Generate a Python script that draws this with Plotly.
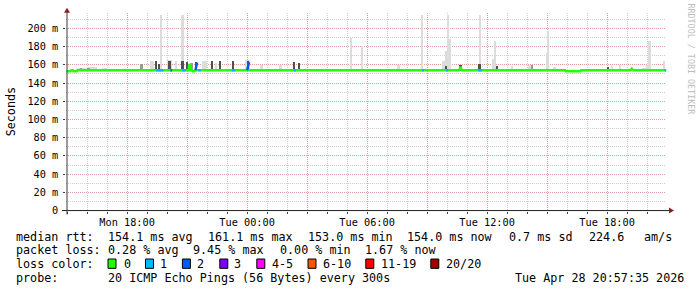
import plotly.graph_objects as go
import pandas as pd

# ---------------- data ----------------
t_start = "2026-04-27 14:57:35"
t_end = "2026-04-28 20:57:35"

x_tickvals = ["2026-04-27 15:00", "2026-04-27 18:00", "2026-04-27 21:00",
              "2026-04-28 00:00", "2026-04-28 03:00", "2026-04-28 06:00",
              "2026-04-28 09:00", "2026-04-28 12:00", "2026-04-28 15:00",
              "2026-04-28 18:00"]
x_ticktext = ["", "Mon 18:00", "", "Tue 00:00", "", "Tue 06:00", "",
              "Tue 12:00", "", "Tue 18:00"]

y_tickvals = [0, 20, 40, 60, 80, 100, 120, 140, 160, 180, 200]
y_ticktext = ["0", "20 m", "40 m", "60 m", "80 m", "100 m", "120 m",
              "140 m", "160 m", "180 m", "200 m"]

# smoke (ping spread), ms
smoke_floor = 153.5
smoke_time = [
    "2026-04-27 15:45", "2026-04-27 16:15", "2026-04-27 16:52",
    "2026-04-27 19:16", "2026-04-27 19:44", "2026-04-27 20:09",
    "2026-04-27 20:27", "2026-04-27 20:48", "2026-04-27 21:52",
    "2026-04-27 22:27",
    "2026-04-28 00:03", "2026-04-28 00:45", "2026-04-28 01:42",
    "2026-04-28 05:12", "2026-04-28 05:45", "2026-04-28 07:36",
    "2026-04-28 08:46", "2026-04-28 09:51", "2026-04-28 09:58",
    "2026-04-28 10:05", "2026-04-28 10:11", "2026-04-28 11:40",
    "2026-04-28 12:18", "2026-04-28 12:25", "2026-04-28 13:15",
    "2026-04-28 14:09", "2026-04-28 15:01", "2026-04-28 15:04",
    "2026-04-28 15:24", "2026-04-28 18:15", "2026-04-28 18:39",
    "2026-04-28 19:51", "2026-04-28 20:01", "2026-04-28 20:09",
    "2026-04-28 20:53",
    # mid grey
    "2026-04-27 15:42", "2026-04-27 16:06", "2026-04-27 18:45",
    "2026-04-27 21:13", "2026-04-28 14:15",
    # dark grey
    "2026-04-27 19:27", "2026-04-27 19:37", "2026-04-27 20:09",
    "2026-04-27 20:48", "2026-04-27 21:00", "2026-04-27 21:27",
    "2026-04-27 22:16", "2026-04-27 22:39", "2026-04-27 23:18",
    "2026-04-28 00:03", "2026-04-28 02:21", "2026-04-28 02:38",
    "2026-04-28 09:57", "2026-04-28 10:42", "2026-04-28 11:39",
    "2026-04-28 12:30", "2026-04-28 18:03", "2026-04-28 20:00",
]
smoke_minutes = [
    30, 30, 15, 10, 3, 14, 6, 5, 15, 6,
    15, 5, 5, 4, 4, 8, 5, 8, 7, 6, 4, 4, 6, 8, 6, 12, 4, 5, 5, 6, 4,
    12, 9, 5, 5,
    6, 9, 5, 9, 4,
    4, 6, 10, 10, 6, 6, 4, 6, 6, 6, 6, 5, 4, 5, 10, 4, 6, 4,
]
smoke_top = [
    157.0, 158.0, 157.0, 164.0, 215.0, 166.0, 165.0, 215.0, 165.0, 162.0,
    166.0, 160.0, 160.0, 190.0, 181.0, 160.0, 215.0, 164.0, 175.0, 215.0,
    189.0, 215.0, 167.0, 186.0, 159.0, 160.0, 173.0, 197.0, 158.0, 159.0,
    160.0, 157.0, 160.0, 186.0, 164.0,
    156.5, 157.0, 161.0, 162.0, 160.0,
    165.0, 161.0, 164.0, 164.0, 163.0, 163.0, 164.0, 164.0, 165.0, 164.0,
    163.0, 162.0, 159.0, 160.0, 161.0, 158.6, 157.5, 156.0,
]
smoke_shade = (["light"] * 35) + (["mid"] * 5) + (["dark"] * 18)

# median rtt, ms
med_time = [
    "2026-04-27 14:57:35", "2026-04-27 15:10", "2026-04-27 15:13",
    "2026-04-27 15:17", "2026-04-27 15:19", "2026-04-27 15:29",
    "2026-04-27 15:31", "2026-04-27 21:04", "2026-04-27 21:07",
    "2026-04-27 21:10", "2026-04-27 21:14", "2026-04-27 21:16",
    "2026-04-27 21:22", "2026-04-27 21:24",
    "2026-04-28 10:36", "2026-04-28 10:40", "2026-04-28 10:44",
    "2026-04-28 15:54", "2026-04-28 15:56", "2026-04-28 16:40",
    "2026-04-28 16:42", "2026-04-28 19:10", "2026-04-28 19:14",
    "2026-04-28 19:18", "2026-04-28 20:57:35",
]
med_ms = [
    153.0, 153.0, 154.1, 154.1, 153.0, 153.0, 154.1, 154.1, 161.0,
    154.1, 154.1, 153.0, 153.0, 154.1,
    154.1, 158.0, 154.1, 154.1, 153.0, 153.0, 154.1, 154.1, 155.8,
    154.1, 154.1,
]

# median segments with packet loss (number of lost pings out of 20)
loss_t0 = ["2026-04-27 19:27", "2026-04-27 20:10", "2026-04-27 20:44",
           "2026-04-27 21:25", "2026-04-27 21:33", "2026-04-27 23:14",
           "2026-04-28 00:00", "2026-04-28 02:20", "2026-04-28 08:45",
           "2026-04-28 09:57", "2026-04-28 11:33", "2026-04-28 20:52"]
loss_t1 = ["2026-04-27 19:49", "2026-04-27 20:15", "2026-04-27 20:57",
           "2026-04-27 21:30", "2026-04-27 21:41", "2026-04-27 23:24",
           "2026-04-28 00:06", "2026-04-28 02:27", "2026-04-28 08:51",
           "2026-04-28 10:03", "2026-04-28 11:45", "2026-04-28 20:57:35"]
loss_ms0 = [154.1, 154.1, 154.1, 154.1, 154.1, 154.1, 154.1, 154.1,
            154.1, 154.1, 154.1, 154.1]
loss_ms1 = [154.1, 154.1, 154.1, 162.5, 154.1, 154.1, 163.0, 154.1,
            154.1, 154.1, 154.1, 154.1]
loss_n = [1, 2, 1, 2, 1, 1, 2, 1, 1, 1, 1, 1]

loss_labels = ["0", "1", "2", "3", "4-5", "6-10", "11-19", "20/20"]
loss_colors = ["#26ff00", "#00b8ff", "#0059ff", "#7e00ff", "#ff00ff",
               "#ff5500", "#ff0000", "#a10000"]

legend_rows = [
    ["median rtt:", "154.1 ms avg", "161.1 ms max", "153.0 ms min",
     "154.0 ms now", "0.7 ms sd", "224.6", "am/s"],
    ["packet loss:", "0.28 % avg", "9.45 % max", "0.00 % min", "1.67 % now"],
    ["probe:", "20 ICMP Echo Pings (56 Bytes) every 300s",
     "Tue Apr 28 20:57:35 2026"],
]
loss_row_title = "loss color:"

# ---------------- layout helpers ----------------
# the page adds a few pixels below the figure, so the figure itself is
# drawn at 290 px and the page comes out at the 697x297 window size
W, H = 697, 290
def px(x):
    return x / W
def py(y):
    return 1 - y / H

def to_dt(vals):
    return pd.to_datetime(vals, format="mixed")

MONO = "DejaVu Sans Mono"
LEG = 11.73
AX = 10.26

def loss_index(n):
    if n <= 3:
        return n
    if n <= 5:
        return 4
    if n <= 10:
        return 5
    if n <= 19:
        return 6
    return 7

fig = go.Figure()

shade_color = {"light": "#dcdcdc", "mid": "#9a9a9a", "dark": "#505050"}
for shade in ["light", "mid", "dark"]:
    idx = [i for i, s in enumerate(smoke_shade) if s == shade]
    fig.add_trace(go.Bar(
        x=to_dt([smoke_time[i] for i in idx]),
        y=[smoke_top[i] - smoke_floor for i in idx],
        base=smoke_floor,
        width=[smoke_minutes[i] * 60000 for i in idx],
        marker=dict(color=shade_color[shade], line=dict(width=0)),
        hoverinfo="skip", showlegend=False,
    ))

fig.add_trace(go.Scatter(
    x=to_dt(med_time), y=med_ms, mode="lines",
    line=dict(color=loss_colors[0], width=2.4),
    hoverinfo="skip", showlegend=False,
))

groups = {}
for t0, t1, v0, v1, n in zip(loss_t0, loss_t1, loss_ms0, loss_ms1, loss_n):
    k = loss_index(n)
    gx, gy = groups.setdefault(k, ([], []))
    gx += [pd.Timestamp(t0), pd.Timestamp(t1), None]
    gy += [v0, v1, None]
for k, (gx, gy) in groups.items():
    fig.add_trace(go.Scatter(
        x=gx, y=gy, mode="lines",
        line=dict(color=loss_colors[k], width=2.4),
        hoverinfo="skip", showlegend=False,
    ))

RED_GRID = "rgba(235,120,120,0.6)"
GRAY_GRID = "rgba(170,170,170,0.55)"

fig.update_layout(
    width=W, height=H, autosize=False,
    margin=dict(l=0, r=0, t=0, b=0),
    paper_bgcolor="white", plot_bgcolor="white",
    barmode="overlay", bargap=0,
    showlegend=False,
    font=dict(family=MONO, size=AX, color="black"),
    xaxis=dict(
        type="date", range=[t_start, t_end],
        domain=[px(66.3), px(666.3)],
        tickmode="array", tickvals=x_tickvals, ticktext=x_ticktext,
        showgrid=True, gridcolor=RED_GRID, griddash="1px,1px", gridwidth=1,
        ticks="outside", ticklen=2, tickcolor="#404040",
        tickfont=dict(family=MONO, size=AX, color="black"),
        minor=dict(tickmode="linear", tick0="2026-04-27 15:00",
                   dtick=3600000, showgrid=True, gridcolor=GRAY_GRID,
                   griddash="1px,1px", gridwidth=1, ticks="outside",
                   ticklen=2, tickcolor="#404040"),
        showline=False, zeroline=False, fixedrange=True,
    ),
    yaxis=dict(
        range=[0, 217.2], domain=[py(215), py(13)],
        tickmode="array", tickvals=y_tickvals, ticktext=y_ticktext,
        showgrid=True, gridcolor=RED_GRID, griddash="1px,1px", gridwidth=1,
        ticks="outside", ticklen=2, tickcolor="#404040",
        tickfont=dict(family=MONO, size=AX, color="black"),
        ticklabelstandoff=3,
        minor=dict(tickmode="linear", tick0=0, dtick=10, showgrid=True,
                   gridcolor=GRAY_GRID, griddash="1px,1px", gridwidth=1),
        showline=False, zeroline=False, fixedrange=True,
    ),
)

shapes = [
    dict(type="line", xref="paper", yref="paper", x0=px(62), x1=px(670),
         y0=py(215), y1=py(215), line=dict(color="#202020", width=1)),
    dict(type="line", xref="paper", yref="paper", x0=px(67), x1=px(67),
         y0=py(219), y1=py(12), line=dict(color="#403838", width=1)),
    dict(type="path", xref="paper", yref="paper",
         path=f"M {px(669)} {py(212)} L {px(674)} {py(215)} L {px(669)} {py(218)} Z",
         fillcolor="#8f1f1f", line=dict(width=0)),
    dict(type="path", xref="paper", yref="paper",
         path=f"M {px(64)} {py(13)} L {px(67)} {py(8)} L {px(70)} {py(13)} Z",
         fillcolor="#8f1f1f", line=dict(width=0)),
]

annotations = []
def txt(s, x, y, size=LEG, color="black", angle=0, xanchor="left"):
    annotations.append(dict(
        text=s, x=px(x), y=py(y), xref="paper", yref="paper",
        xanchor=xanchor, yanchor="middle", showarrow=False,
        textangle=angle, borderpad=0, borderwidth=0,
        font=dict(family=MONO, size=size, color=color)))

row_x = [
    [16, 108, 208, 308, 407.5, 508.5, 588.5, 644],
    [16, 108, 192.5, 279.5, 365],
    [16, 108, 515],
]
row_y = [241.5, 255.5, 283.5]
for r, texts in enumerate(legend_rows):
    for s, x in zip(texts, row_x[r]):
        txt(s, x, row_y[r])

txt(loss_row_title, 16, 269.5)
box_x = [108, 145.5, 182.4, 219.8, 256.8, 308, 365.8, 430.8]
lab_x = [123.7, 160, 197, 234, 271.5, 322.6, 380.5, 445.9]
for lab, col, bx, lx in zip(loss_labels, loss_colors, box_x, lab_x):
    shapes.append(dict(type="rect", xref="paper", yref="paper",
                       x0=px(bx), x1=px(bx + 8), y0=py(274), y1=py(264.5),
                       fillcolor=col, line=dict(color="black", width=1)))
    txt(lab, lx, 269.5)

txt("Seconds", 10.7, 114, angle=-90, xanchor="center")
txt("RRDTOOL / TOBI OETIKER", 691, 60.7, size=8.4, color="#bdbdbd",
    angle=90, xanchor="center")

fig.update_layout(shapes=shapes, annotations=annotations)
fig.write_html("out.html", config={"responsive": False})
